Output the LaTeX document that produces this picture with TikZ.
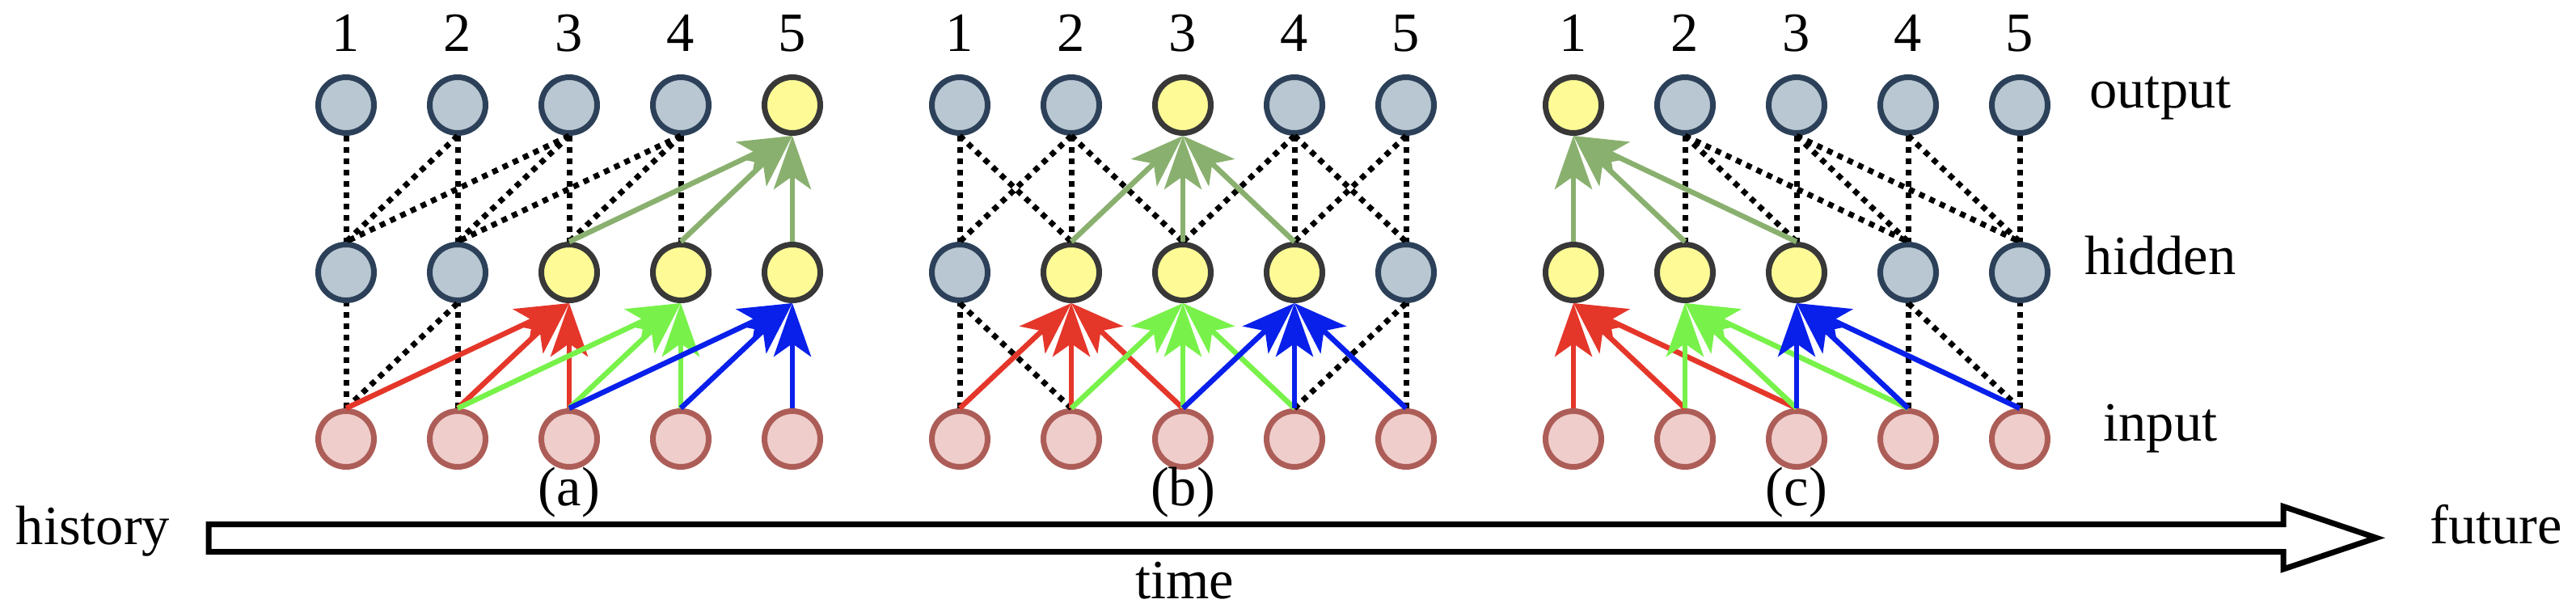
\documentclass[tikz,border=0pt]{standalone}
\usepackage{fontspec}
\setmainfont{Liberation Serif}
\usetikzlibrary{arrows.meta}
\definecolor{greyfill}{HTML}{B9C7D2}
\definecolor{greyline}{HTML}{2C4159}
\definecolor{yelfill}{HTML}{FEFB96}
\definecolor{yelline}{HTML}{383838}
\definecolor{inpfill}{HTML}{EFCDCB}
\definecolor{inpline}{HTML}{AD5D57}
\definecolor{convred}{HTML}{E5362A}
\definecolor{convgreen}{HTML}{78F24A}
\definecolor{convblue}{HTML}{0820EA}
\definecolor{convsage}{HTML}{8AB06F}

\begin{document}
\begin{tikzpicture}[
    neuron/.style={circle, line width=0.07cm, minimum size=0.69cm, inner sep=0pt},
    idle/.style={neuron, fill=greyfill, draw=greyline},
    active/.style={neuron, fill=yelfill, draw=yelline},
    inp/.style={neuron, fill=inpfill, draw=inpline},
    link/.style={line width=0.07cm, dash pattern=on 0.07cm off 0.07cm},
    conv/.style={line width=0.065cm, -{Stealth[length=0.66cm,width=0.46cm,inset=0.16cm]}},
    lbl/.style={font=\fontsize{19.5}{23}\selectfont, inner sep=0pt}
  ]
    \useasboundingbox (0,0) rectangle (31.86,7.56);

    % three panels: name / left column / active output / active hidden range
    \foreach \p/\x/\yo/\hl/\hh in {a/4.28/5/3/5, b/11.87/3/2/4, c/19.46/1/1/3} {
        \foreach \i in {1,...,5} {
            \ifnum\i=\yo \def\os{active}\else\def\os{idle}\fi
            \ifnum\i<\hl \def\hs{idle}\else
              \ifnum\i>\hh \def\hs{idle}\else\def\hs{active}\fi\fi
            \node[lbl] (\p-num\i) at ({\x+1.38*(\i-1)},7.15) {\i};
            \node[\os] (\p-out\i) at ({\x+1.38*(\i-1)},6.26) {};
            \node[\hs] (\p-hid\i) at ({\x+1.38*(\i-1)},4.19) {};
            \node[inp] (\p-in\i) at ({\x+1.38*(\i-1)},2.13) {};
        }
        \node[lbl] (\p-cap) at ({\x+2.76},1.47) {(\p)};
    }

    % (a) causal
    \foreach \o/\h in {1/1,2/2,3/3,4/4,2/1,3/1,3/2,4/2,4/3}
        \draw[link] (a-out\o.south) -- (a-hid\h.north);
    \foreach \i/\h in {1/1,2/2,1/2}
        \draw[link] (a-in\i.north) -- (a-hid\h.south);
    \foreach \h in {3,4,5}
        \draw[conv, convsage] (a-hid\h.north) -- (a-out5.south);
    \foreach \i in {1,2,3} \draw[conv, convred] (a-in\i.north) -- (a-hid3.south);
    \foreach \i in {2,3,4} \draw[conv, convgreen] (a-in\i.north) -- (a-hid4.south);
    \foreach \i in {3,4,5} \draw[conv, convblue] (a-in\i.north) -- (a-hid5.south);

    % (b) centred
    \foreach \o/\h in {1/1,1/2,2/1,2/2,2/3,4/3,4/4,4/5,5/4,5/5}
        \draw[link] (b-out\o.south) -- (b-hid\h.north);
    \foreach \i/\h in {1/1,2/1,4/5,5/5}
        \draw[link] (b-in\i.north) -- (b-hid\h.south);
    \foreach \h in {2,3,4}
        \draw[conv, convsage] (b-hid\h.north) -- (b-out3.south);
    \foreach \i in {1,2,3} \draw[conv, convred] (b-in\i.north) -- (b-hid2.south);
    \foreach \i in {2,3,4} \draw[conv, convgreen] (b-in\i.north) -- (b-hid3.south);
    \foreach \i in {3,4,5} \draw[conv, convblue] (b-in\i.north) -- (b-hid4.south);

    % (c) anti-causal
    \foreach \o/\h in {2/2,2/3,2/4,3/3,3/4,3/5,4/4,4/5,5/5}
        \draw[link] (c-out\o.south) -- (c-hid\h.north);
    \foreach \i/\h in {4/4,5/4,5/5}
        \draw[link] (c-in\i.north) -- (c-hid\h.south);
    \foreach \h in {1,2,3}
        \draw[conv, convsage] (c-hid\h.north) -- (c-out1.south);
    \foreach \i in {1,2,3} \draw[conv, convred] (c-in\i.north) -- (c-hid1.south);
    \foreach \i in {2,3,4} \draw[conv, convgreen] (c-in\i.north) -- (c-hid2.south);
    \foreach \i in {3,4,5} \draw[conv, convblue] (c-in\i.north) -- (c-hid3.south);

    % layer names
    \node[lbl] (outname) at (26.72,6.34) {output};
    \node[lbl] (hidname) at (26.72,4.40) {hidden};
    \node[lbl] (inname) at (26.72,2.26) {input};

    % time axis
    \draw[line width=0.07cm, line join=miter]
        (2.58,1.075) -- (28.24,1.075) -- (28.24,1.295) -- (29.39,0.907)
        -- (28.24,0.52) -- (28.24,0.735) -- (2.58,0.735) -- cycle;
    \node[lbl] (past) at (1.15,0.99) {history};
    \node[lbl] (future) at (30.87,1.07) {future};
    \node[lbl] (time) at (14.65,0.38) {time};
\end{tikzpicture}
\end{document}
